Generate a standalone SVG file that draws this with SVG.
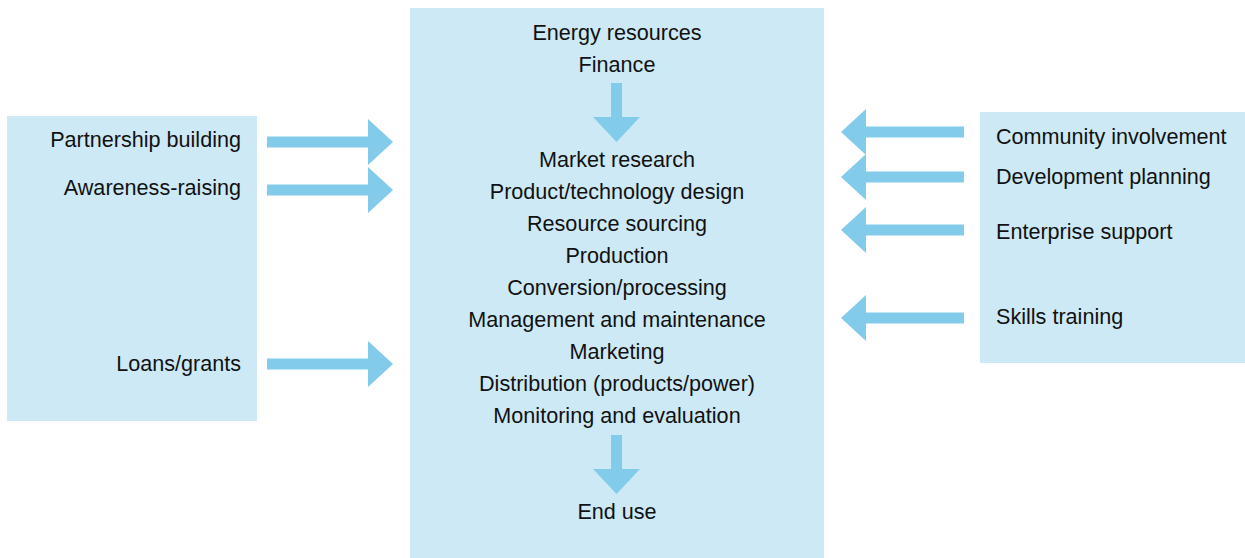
<svg xmlns="http://www.w3.org/2000/svg" width="1245" height="558" viewBox="0 0 1245 558">
  <defs>
    <style>
      .panel { fill: #cde9f6; }
      .arrow { fill: #82cbeb; }
      text { font-family: "Liberation Sans", Arial, sans-serif; font-size: 21.6px; fill: #111; }
      .c { text-anchor: middle; }
      .r { text-anchor: end; }
    </style>
    <!-- arrow shapes pointing right / left / down, origin at tip -->
    <path id="arrowR" d="M-126,-5.5 H-25 V-23 L0,0 L-25,23 V5.5 H-126 Z"/>
    <path id="arrowL" d="M123,-5.5 H25 V-23 L0,0 L25,23 V5.5 H123 Z"/>
    <path id="arrowD" d="M-5.5,-59 V-25 H-23.5 L0,0 L23.5,-25 H5.5 V-59 Z"/>
  </defs>

  <g id="left-panel">
    <rect class="panel" x="7" y="116" width="250" height="305"/>
    <text class="r" x="241" y="147">Partnership building</text>
    <text class="r" x="241" y="195">Awareness-raising</text>
    <text class="r" x="241" y="371">Loans/grants</text>
  </g>

  <g id="center-panel">
    <rect class="panel" x="410" y="8" width="414" height="550"/>
    <text class="c" x="617" y="40">Energy resources</text>
    <text class="c" x="617" y="72">Finance</text>
    <text class="c" x="617" y="167">Market research</text>
    <text class="c" x="617" y="199">Product/technology design</text>
    <text class="c" x="617" y="231">Resource sourcing</text>
    <text class="c" x="617" y="263">Production</text>
    <text class="c" x="617" y="295">Conversion/processing</text>
    <text class="c" x="617" y="327">Management and maintenance</text>
    <text class="c" x="617" y="359">Marketing</text>
    <text class="c" x="617" y="391">Distribution (products/power)</text>
    <text class="c" x="617" y="423">Monitoring and evaluation</text>
    <text class="c" x="617" y="519">End use</text>
  </g>

  <g id="right-panel">
    <rect class="panel" x="980" y="112" width="265" height="251"/>
    <text x="996" y="144">Community involvement</text>
    <text x="996" y="184">Development planning</text>
    <text x="996" y="239">Enterprise support</text>
    <text x="996" y="324">Skills training</text>
  </g>

  <g id="connectors">
    <use class="arrow" href="#arrowR" x="393" y="142"/>
    <use class="arrow" href="#arrowR" x="393" y="190"/>
    <use class="arrow" href="#arrowR" x="393" y="364"/>
    <use class="arrow" href="#arrowD" x="616.5" y="142"/>
    <use class="arrow" href="#arrowD" x="616.5" y="494"/>
    <use class="arrow" href="#arrowL" x="841" y="132"/>
    <use class="arrow" href="#arrowL" x="841" y="177"/>
    <use class="arrow" href="#arrowL" x="841" y="230"/>
    <use class="arrow" href="#arrowL" x="841" y="318"/>
  </g>
</svg>
